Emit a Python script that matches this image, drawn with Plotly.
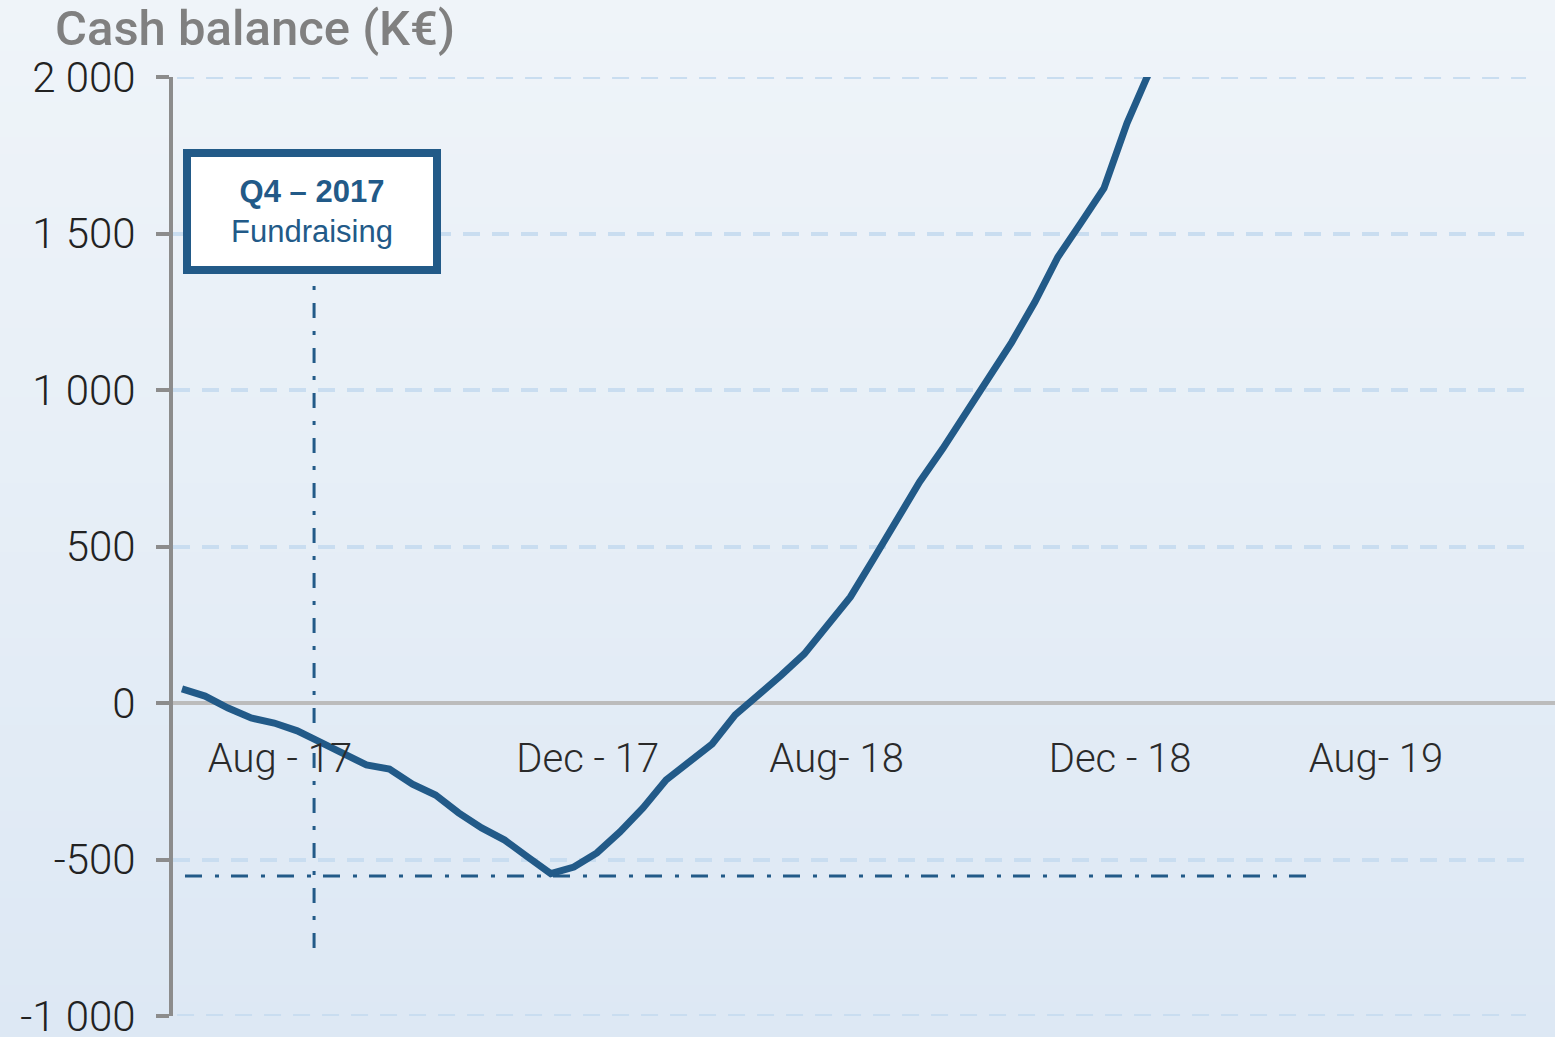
import plotly.graph_objects as go

# ---------------- data ----------------
period_index = list(range(43))
cash_balance = [45, 22, -16, -48, -64, -89, -125, -160, -198, -211, -259, -294,
                -351, -399, -438, -492, -545, -524, -479, -412, -335, -246, -188,
                -131, -38, 22, 89, 157, 249, 339, 460, 581, 706, 812, 923, 1035,
                1153, 1281, 1425, 1534, 1645, 1853, 2022]

x_tick_pos = [4.25, 17.6, 28.4, 40.7, 51.8]
x_tick_text = ["Aug - 17", "Dec - 17", "Aug- 18", "Dec - 18", "Aug- 19"]

y_tick_vals = [-1000, -500, 0, 500, 1000, 1500, 2000]
y_tick_text = ["-1 000", "-500", "0", "500", "1 000", "1 500", "2 000"]
y_range = [-1000, 2000]

funding_need = -553          # horizontal dash-dot reference level
fundraising_x = 5.73         # Q4-2017 marker position
fundraising_y_bottom = -783
box_x, box_y = 5.64, 1569
ref_line_x = [0.13, 49.15]

title_text = "Cash balance (K€)"
box_title = "Q4 – 2017"
box_sub = "Fundraising"

# ---------------- style ----------------
W, H = 1555, 1037
ML, MR, MT, MB = 173, 29, 77, 21
PW, PH = W - ML - MR, H - MT - MB
BLUE = "#225a88"
GRID = "#c9ddf0"
GRID_DASH = "17px,12px"
FONT = "Liberation Sans"
LIGHT = "Roboto Light, Roboto, Liberation Sans"

def px_x(px):
    return (px - ML) / PW

def px_y(py):
    return (H - MB - py) / PH

fig = go.Figure()
fig.add_trace(go.Scatter(x=period_index, y=cash_balance, mode="lines",
                         line=dict(color=BLUE, width=7), hoverinfo="skip"))

shapes = []
top = (239, 244, 249)
bot = (221, 232, 244)
n = 60
for k in range(n):
    t = k / (n - 1)
    c = tuple(round(top[j] + (bot[j] - top[j]) * t) for j in range(3))
    y_top = k * H / n - 1
    y_bot = (k + 1) * H / n + 1
    shapes.append(dict(type="rect", xref="paper", yref="paper",
                       x0=px_x(-5), x1=px_x(W + 5), y0=px_y(y_bot), y1=px_y(y_top),
                       fillcolor="rgb(%d,%d,%d)" % c, line=dict(width=0), layer="below"))
# gridlines at the range edges (plotly omits them)
for yv in y_range:
    shapes.append(dict(type="line", xref="paper", yref="y", x0=0.003, x1=1.0, y0=yv, y1=yv,
                       line=dict(color=GRID, width=4, dash=GRID_DASH), layer="between"))
# zero line extension beyond the plot area
shapes.append(dict(type="line", xref="paper", yref="y", x0=1.0, x1=px_x(W + 5),
                   y0=0, y1=0, line=dict(color="#bcbcbc", width=4), layer="above"))
# horizontal dash-dot
shapes.append(dict(type="line", xref="x", yref="y", x0=ref_line_x[0], x1=ref_line_x[1],
                   y0=funding_need, y1=funding_need,
                   line=dict(color=BLUE, width=3, dash="17px,13px,4px,12px"), layer="between"))
# vertical dash-dot
shapes.append(dict(type="line", xref="x", yref="y", x0=fundraising_x, x1=fundraising_x,
                   y0=fundraising_y_bottom, y1=box_y,
                   line=dict(color=BLUE, width=3, dash="15px,13px,4px,13px"), layer="between"))

fig.update_layout(
    width=W, height=H,
    margin=dict(l=ML, r=MR, t=MT, b=MB, autoexpand=False),
    paper_bgcolor="#e6eef6", plot_bgcolor="rgba(0,0,0,0)",
    showlegend=False,
    shapes=shapes,
    title=dict(text=title_text, x=55 / W, xref="container", xanchor="left",
               y=1 - 28 / H, yref="container", yanchor="middle",
               font=dict(family="Roboto", weight=500, size=49, color="#808080")),
    xaxis=dict(range=[-0.39, -0.39 + PW / 23.05], showgrid=False, zeroline=False,
               showline=False, ticks="", tickvals=x_tick_pos, ticktext=x_tick_text,
               anchor="free", position=(0 - y_range[0]) / (y_range[1] - y_range[0]),
               ticklabelstandoff=28, automargin=False,
               tickfont=dict(family=LIGHT, weight=300, size=40, color="#2a2a2a")),
    yaxis=dict(range=y_range, tickvals=y_tick_vals, ticktext=y_tick_text,
               showgrid=True, gridcolor=GRID, gridwidth=4, griddash=GRID_DASH,
               zeroline=True, zerolinecolor="#bcbcbc", zerolinewidth=4,
               showline=True, linecolor="#8c8c8c", linewidth=4,
               ticks="outside", ticklen=13, tickwidth=4, tickcolor="#8c8c8c",
               ticklabelstandoff=12, ticklabeloverflow="allow", automargin=False,
               tickfont=dict(family=LIGHT, weight=300, size=42, color="#222222")),
    annotations=[dict(x=box_x, y=box_y, xref="x", yref="y",
                      text="<b>" + box_title + "</b><br>" + box_sub, showarrow=False,
                      font=dict(family=FONT, size=31, color=BLUE), bgcolor="white",
                      bordercolor=BLUE, borderwidth=8, borderpad=0, width=242, height=109,
                      align="center", valign="middle")],
)

fig.write_html("out.html", config={"displayModeBar": False},
               post_script="document.body.style.margin='0';document.body.style.padding='0';")
